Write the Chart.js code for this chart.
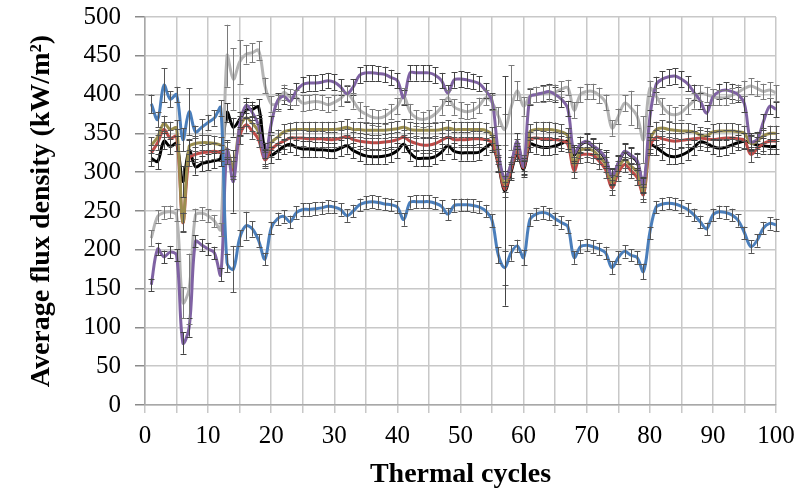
<!DOCTYPE html>
<html>
<head>
<meta charset="utf-8">
<script src="https://cdn.jsdelivr.net/npm/chart.js@4/dist/chart.umd.min.js"></script>
<style>
html,body{margin:0;padding:0;background:#fff;}
#wrap{width:803px;height:493px;}
</style>
</head>
<body>
<div id="wrap"><canvas id="c" width="803" height="493"></canvas></div>
<script>
const cycles = [1,2,3,4,5,6,7,8,9,10,11,12,13,14,15,16,17,18,19,20,21,22,23,24,25,26,27,28,29,30,31,32,33,34,35,36,37,38,39,40,41,42,43,44,45,46,47,48,49,50,51,52,53,54,55,56,57,58,59,60,61,62,63,64,65,66,67,68,69,70,71,72,73,74,75,76,77,78,79,80,81,82,83,84,85,86,87,88,89,90,91,92,93,94,95,96,97,98,99,100];

const blueSeries = [388,368,412,394,400,342,378,352,358,364,370,383,183,175,215,231,227,212,188,228,240,243,236,248,252,252,253,254,256,255,252,244,250,258,261,262,261,259,258,255,239,261,262,262,262,260,256,246,257,258,258,257,255,250,238,193,177,196,205,190,239,246,248,246,240,235,230,190,204,206,204,201,196,177,190,198,193,190,172,222,255,259,260,259,256,252,245,236,227,245,249,248,245,238,222,204,212,228,234,232];
const blueErr = [12,10,22,10,10,15,30,8,10,10,10,10,12,30,10,18,10,8,8,8,8,8,8,8,8,8,8,8,8,8,8,8,8,8,8,8,8,8,8,8,8,8,8,8,8,8,8,8,8,8,8,8,8,8,8,10,22,10,8,10,8,8,8,8,8,8,8,8,8,8,8,8,8,8,8,8,8,8,10,8,8,8,8,8,8,8,8,8,8,8,8,8,8,8,8,8,8,8,8,8];

const purpleSeries = [155,201,191,197,193,80,100,211,206,201,196,168,329,288,360,386,377,360,318,362,392,398,391,405,413,415,415,416,418,416,410,401,410,425,428,428,427,426,422,418,396,428,428,428,428,425,418,402,419,420,419,417,414,405,392,325,292,310,340,308,397,400,402,404,400,394,382,325,336,340,334,328,318,295,312,327,322,315,284,370,413,420,423,424,420,414,403,392,376,397,404,406,404,400,388,340,342,365,385,381];
const purpleErr = [8,8,8,8,8,14,12,8,8,8,8,8,12,40,12,10,10,10,10,10,10,10,10,10,10,10,10,10,10,10,10,10,10,10,10,10,10,10,10,10,10,10,10,10,10,10,10,10,10,10,10,10,10,10,10,10,10,10,10,10,10,10,10,10,10,10,10,10,10,10,10,10,10,10,10,10,10,10,10,10,10,10,10,10,10,10,10,10,10,10,10,10,10,10,10,10,10,10,10,10];

const graySeries = [215,243,248,249,245,132,150,245,247,244,237,226,450,420,442,452,454,457,412,388,389,403,397,396,389,390,391,390,387,390,395,402,392,380,375,371,370,372,378,385,398,378,370,368,370,375,384,396,384,380,378,380,386,396,390,372,355,383,405,385,398,400,401,402,403,407,409,380,400,404,404,399,390,357,372,389,383,372,342,408,398,385,376,374,377,385,392,402,400,397,396,396,399,403,408,411,408,404,406,402];
const grayErr = [10,8,8,8,8,20,45,8,8,8,8,8,40,40,28,12,12,12,10,10,10,10,10,10,10,10,10,10,10,10,10,10,10,10,10,10,10,10,10,10,10,10,10,10,10,10,10,10,10,10,10,10,10,10,10,12,20,55,12,12,10,10,10,10,10,10,10,10,10,10,10,10,10,10,10,10,22,15,30,10,10,10,10,10,10,10,10,10,10,10,10,10,10,10,10,10,10,10,10,10];

const oliveSeries = [335,345,363,355,357,236,333,337,338,338,337,335,329,307,357,370,363,352,320,338,345,352,354,355,355,355,355,355,355,355,356,358,355,355,354,354,354,354,355,356,358,355,354,354,354,354,355,357,355,355,355,355,355,354,348,320,285,310,333,312,352,355,355,355,354,352,347,310,328,330,328,320,310,287,305,316,308,300,275,340,355,357,355,354,353,353,352,348,347,352,353,353,353,352,350,337,340,347,350,350];
const oliveErr = [10,10,10,10,10,12,10,10,10,10,10,10,10,12,10,10,10,10,10,10,10,10,10,10,10,10,10,10,10,10,10,10,10,10,10,10,10,10,10,10,10,10,10,10,10,10,10,10,10,10,10,10,10,10,10,10,10,10,10,10,10,10,10,10,10,10,10,10,10,10,10,10,10,10,10,10,10,10,10,10,10,10,10,10,10,10,10,10,10,10,10,10,10,10,10,10,10,10,10,10];

const redSeries = [325,338,355,344,346,235,318,323,325,326,327,325,320,303,346,361,353,342,316,329,336,340,344,344,344,343,343,343,342,342,344,346,342,340,339,338,338,339,340,342,345,340,337,335,335,337,341,345,342,342,342,343,343,342,338,312,278,303,327,306,342,344,343,342,342,341,336,302,322,323,322,314,303,280,299,310,302,293,271,332,345,343,341,340,341,342,343,344,343,342,343,344,344,343,341,323,330,337,340,340];
const redErr = [10,10,10,10,10,12,10,10,10,10,10,10,10,12,10,10,10,10,10,10,10,10,10,10,10,10,10,10,10,10,10,10,10,10,10,10,10,10,10,10,10,10,10,10,10,10,10,10,10,10,10,10,10,10,10,10,10,10,10,10,10,10,10,10,10,10,10,10,10,10,10,10,10,10,10,10,10,10,10,10,10,10,10,10,10,10,10,10,10,10,10,10,10,10,10,10,10,10,10,10];

const blackSeries = [318,314,340,333,337,288,328,307,311,313,315,318,377,358,368,380,381,384,328,322,327,333,336,332,330,330,329,329,328,328,331,334,328,324,321,320,320,321,323,328,336,325,318,318,318,320,326,334,327,325,325,325,326,332,336,310,276,300,324,304,336,334,332,332,334,337,340,322,335,339,333,327,316,294,311,326,321,313,283,335,332,326,321,320,322,326,332,339,337,333,331,332,335,338,340,338,335,334,333,333];
const blackErr = [10,10,10,10,10,20,14,10,10,10,10,10,12,12,10,10,10,10,10,10,10,10,10,10,10,10,10,10,10,10,10,10,10,10,10,10,10,10,10,10,10,10,10,10,10,10,10,10,10,10,10,10,10,10,10,10,148,10,10,10,10,10,10,10,10,10,10,10,10,10,10,10,10,10,10,10,10,10,10,10,10,10,10,10,10,10,10,10,10,10,10,10,10,10,10,10,10,10,10,10];

const yTicks = [0,50,100,150,200,250,300,350,400,450,500];
const xLabelStep = 10;

const FONT = "'Liberation Serif','Times New Roman',serif";

function mk(values, errs, color, barColor) {
  return {
    data: cycles.map((c, i) => ({x: c, y: values[i]})),
    errs: errs,
    barColor: barColor,
    borderColor: color,
    backgroundColor: color,
    borderWidth: 3,
    pointRadius: 0,
    tension: 0.35,
    fill: false
  };
}

const errorBars = {
  id: 'errorBars',
  afterDatasetsDraw(chart) {
    const {ctx, scales: {x, y}} = chart;
    ctx.save();
    ctx.lineWidth = 1;
    chart.data.datasets.forEach(ds => {
      ctx.strokeStyle = ds.barColor;
      ds.data.forEach((p, i) => {
        const e = ds.errs[i];
        const px = Math.round(x.getPixelForValue(p.x)) + 0.5;
        const yt = y.getPixelForValue(p.y + e);
        const yb = y.getPixelForValue(p.y - e);
        ctx.beginPath();
        ctx.moveTo(px, yt); ctx.lineTo(px, yb);
        ctx.moveTo(px - 3, Math.round(yt) + 0.5); ctx.lineTo(px + 3, Math.round(yt) + 0.5);
        ctx.moveTo(px - 3, Math.round(yb) + 0.5); ctx.lineTo(px + 3, Math.round(yb) + 0.5);
        ctx.stroke();
      });
    });
    ctx.restore();
  }
};

new Chart(document.getElementById('c'), {
  type: 'line',
  data: {
    datasets: [
      mk(blueSeries, blueErr, '#4A7EBB', '#555555'),
      mk(purpleSeries, purpleErr, '#7F62A3', '#444444'),
      mk(graySeries, grayErr, '#B4B4B4', '#7a7a7a'),
      mk(oliveSeries, oliveErr, '#9A8E4E', '#555555'),
      mk(redSeries, redErr, '#BE4B48', '#555555'),
      mk(blackSeries, blackErr, '#000000', '#444444')
    ]
  },
  options: {
    responsive: false,
    animation: false,
    devicePixelRatio: 1,
    layout: {padding: {top: 17, right: 27, left: 0, bottom: 0}},
    plugins: {legend: {display: false}, tooltip: {enabled: false}},
    scales: {
      x: {
        type: 'linear', min: 0, max: 100,
        afterBuildTicks: s => { s.ticks = cycles.filter(c => c % 5 === 0).concat([0]).sort((a,b)=>a-b).map(v => ({value: v})); },
        ticks: {
          autoSkip: false, maxRotation: 0, color: '#000', padding: 8,
          font: {family: FONT, size: 25},
          callback: v => (v % xLabelStep === 0 ? String(v) : '')
        },
        grid: {color: '#c8c8c8', lineWidth: 1.5, tickLength: 8},
        border: {color: '#a8a8a8', width: 1.5},
        title: {display: true, text: 'Thermal cycles', color: '#000',
          font: {family: FONT, size: 28, weight: 'bold'}, padding: {top: 0, bottom: 1}},
        afterFit: s => { s.height = 88; s.paddingLeft = 0; s.paddingRight = 0; }
      },
      y: {
        min: 0, max: 500,
        afterBuildTicks: s => { s.ticks = yTicks.map(v => ({value: v})); },
        ticks: {color: '#000', padding: 14, font: {family: FONT, size: 25}},
        grid: {color: '#c8c8c8', lineWidth: 1.5, tickLength: 10, tickColor: '#8a8a8a'},
        border: {color: '#a8a8a8', width: 1.5},
        title: {display: true, text: 'Average flux density (kW/m²)', color: '#000',
          font: {family: FONT, size: 28, weight: 'bold'}, padding: {top: 25, bottom: 0}},
        afterFit: s => { s.width = 145; s.paddingTop = 0; s.paddingBottom = 0; }
      }
    }
  },
  plugins: [errorBars]
});
</script>
</body>
</html>
